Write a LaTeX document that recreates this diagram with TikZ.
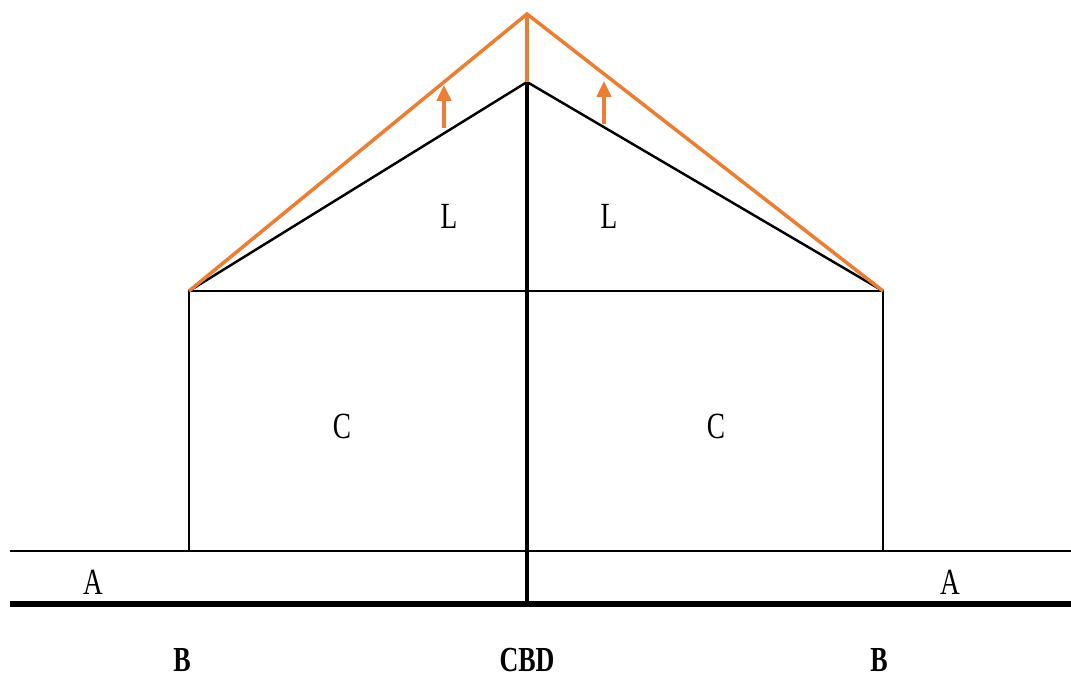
\documentclass[tikz,border=0pt]{standalone}
\usepackage{fontspec}
\setmainfont{Liberation Serif}[FakeStretch=0.74]
\usetikzlibrary{arrows.meta}
\definecolor{roof}{HTML}{ED7D31}
\tikzset{
    thinline/.style={line width=1.1pt, black},
    roofline/.style={line width=2pt, roof},
    zone/.style={font=\fontsize{21}{24}\selectfont, inner sep=0pt},
    place/.style={font=\fontsize{20}{23}\selectfont\bfseries, inner sep=0pt}
}
\begin{document}
\begin{tikzpicture}[x=0.02cm, y=-0.02cm, >={Triangle[width=8pt, length=9pt]}]
    % 1. Khung hình
    \useasboundingbox (0,0) rectangle (1071,679);

    % 2. Các điểm chính
    \coordinate (top) at (527,14);
    \coordinate (peak) at (527,82);
    \coordinate (lc) at (189,291);
    \coordinate (rc) at (883,291);
    \coordinate (mid) at (527,291);
    \coordinate (lb) at (189,551);
    \coordinate (rb) at (883,551);
    \coordinate (base) at (527,604);

    % 3. Hai đường ngang dưới cùng
    \draw[thinline] (10,551) -- (1071,551);
    \draw[line width=3.4pt] (10,604) -- (1071,604);

    % 4. Khối C và tam giác L (nét đen)
    \draw[thinline] (lb) -- (lc) -- (rc) -- (rb);
    \draw[line width=1.4pt] (lc) -- (peak) -- (rc);
    \draw[line width=2.2pt] (peak) -- (base);

    % 5. Đường mới (màu cam) và mũi tên
    \draw[roofline, line join=miter] (lc) -- (top) -- (rc);
    \draw[roofline, line width=2.4pt] (top) -- (peak);
    \draw[->, line width=2.2pt, roof] (444,128) -- (444,85);
    \draw[->, line width=2.2pt, roof] (604,124) -- (604,81);

    % 6. Nhãn
    \node[zone] (l1) at (449,216) {L};
    \node[zone] (l2) at (609,216) {L};
    \node[zone] (c1) at (342,426) {C};
    \node[zone] (c2) at (716,426) {C};
    \node[zone] (a1) at (93,582) {A};
    \node[zone] (a2) at (950,582) {A};
    \node[place] (b1) at (182,660) {B};
    \node[place] (cbd) at (527,660) {CBD};
    \node[place] (b2) at (879,660) {B};
\end{tikzpicture}
\end{document}
